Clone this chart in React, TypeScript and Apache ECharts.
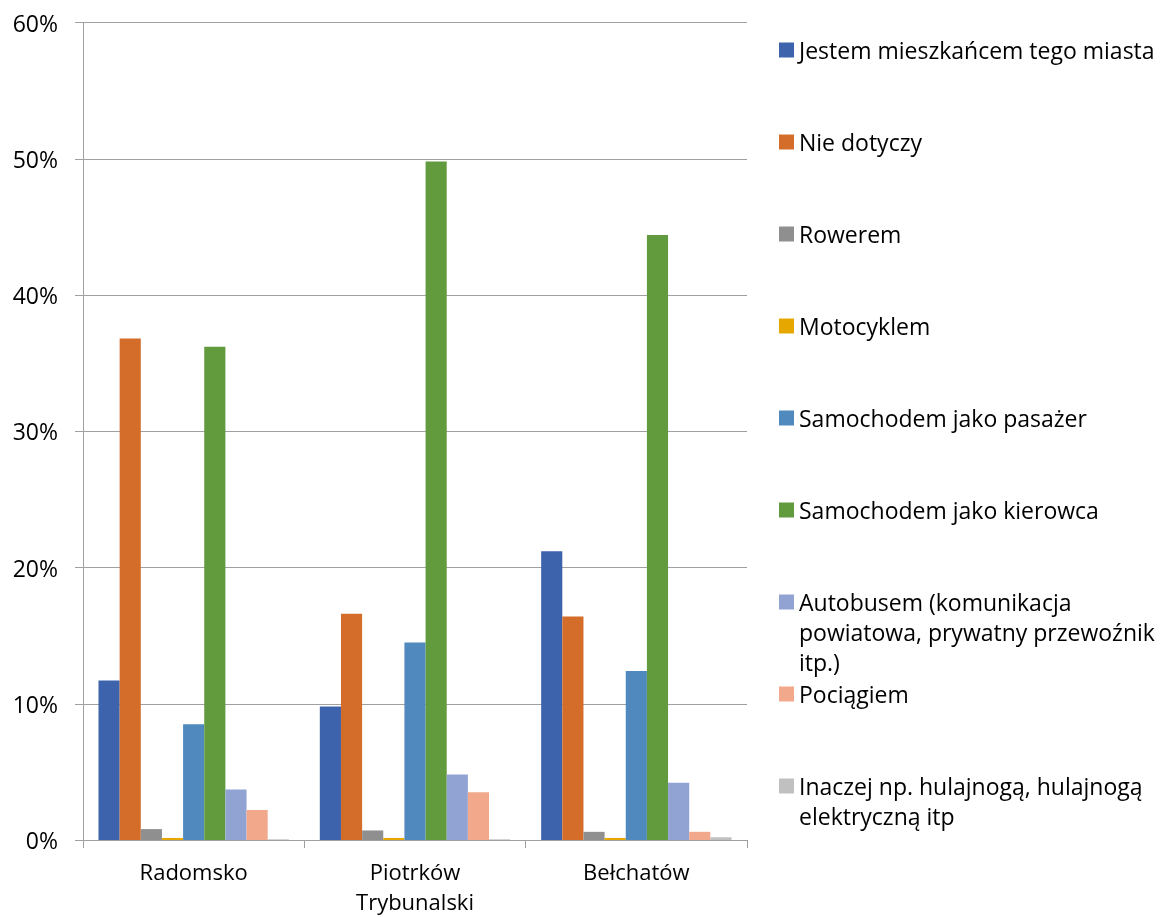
import React, { useEffect, useRef } from "react";
import * as echarts from "echarts";

const categories = ["Radomsko", "Piotrków\nTrybunalski", "Bełchatów"];
const seriesNames = [
  "Jestem mieszkańcem tego miasta",
  "Nie dotyczy",
  "Rowerem",
  "Motocyklem",
  "Samochodem jako pasażer",
  "Samochodem jako kierowca",
  "Autobusem (komunikacja powiatowa, prywatny przewoźnik itp.)",
  "Pociągiem",
  "Inaczej np. hulajnogą, hulajnogą elektryczną itp",
];
const legendLines = [
  ["Jestem mieszkańcem tego miasta"],
  ["Nie dotyczy"],
  ["Rowerem"],
  ["Motocyklem"],
  ["Samochodem jako pasażer"],
  ["Samochodem jako kierowca"],
  ["Autobusem (komunikacja", "powiatowa, prywatny przewoźnik", "itp.)"],
  ["Pociągiem"],
  ["Inaczej np. hulajnogą, hulajnogą", "elektryczną itp"],
];
const jestem = [11.7, 9.8, 21.2];
const nieDotyczy = [36.8, 16.6, 16.4];
const rowerem = [0.8, 0.7, 0.6];
const motocyklem = [0.15, 0.15, 0.15];
const pasazer = [8.5, 14.5, 12.4];
const kierowca = [36.2, 49.8, 44.4];
const autobusem = [3.7, 4.8, 4.2];
const pociagiem = [2.2, 3.5, 0.6];
const inaczej = [0.05, 0.05, 0.2];
const seriesValues = [jestem, nieDotyczy, rowerem, motocyklem, pasazer, kierowca, autobusem, pociagiem, inaczej];
const colors = ["#3C63AC", "#D46D29", "#8F8F8F", "#E6A800", "#4F89BD", "#629A3E", "#91A3D3", "#F2A98B", "#C0C0C0"];
const yTicks = [0, 10, 20, 30, 40, 50, 60];

const FONT = "Open Sans";
const FS = 23;
const LH = 26;
const STEP = 30;

export default function App() {
  const ref = useRef<HTMLDivElement>(null);
  useEffect(() => {
    if (!ref.current) return;
    const chart = echarts.init(ref.current, null, { renderer: "svg" });
    const legends = seriesNames.map((name, i) => {
      const center = 50 + 92 * i;
      return {
        show: true,
        left: 779,
        top: center - LH / 2,
        orient: "vertical",
        padding: 0,
        itemWidth: 15,
        itemHeight: 15,
        itemGap: 0,
        selectedMode: false,
        icon: "rect",
        data: [name],
        formatter: () => legendLines[i][0],
        textStyle: { fontFamily: FONT, fontSize: FS, lineHeight: LH, color: "#000" },
      };
    });
    const extraLines: any[] = [];
    legendLines.forEach((lines, i) => {
      const center = 50 + 92 * i;
      lines.slice(1).forEach((t, k) => {
        extraLines.push({
          type: "text",
          x: 799,
          y: center + STEP * (k + 1),
          style: {
            text: t,
            fontFamily: FONT,
            fontSize: FS,
            lineHeight: 24,
            fill: "#000",
            verticalAlign: "middle",
            align: "left",
          },
        });
      });
    });
    chart.setOption({
      animation: false,
      color: colors,
      textStyle: { fontFamily: FONT },
      grid: { left: 83, width: 664, top: 22.5, height: 817.5, containLabel: false, outerBoundsMode: "none" },
      legend: legends,
      graphic: extraLines,
      xAxis: {
        type: "category",
        data: categories,
        boundaryGap: true,
        axisLine: { lineStyle: { color: "#A0A0A0", width: 1 } },
        axisTick: { show: true, length: 8, alignWithLabel: false, lineStyle: { color: "#A0A0A0" } },
        axisLabel: { fontFamily: FONT, fontSize: 22, lineHeight: 30, color: "#000", margin: 16, interval: 0 },
      },
      yAxis: {
        type: "value",
        min: yTicks[0],
        max: yTicks[yTicks.length - 1],
        interval: 10,
        axisLine: { show: true, lineStyle: { color: "#A0A0A0", width: 1 } },
        axisTick: { show: true, length: 8, lineStyle: { color: "#A0A0A0" } },
        splitLine: { show: true, lineStyle: { color: "#A0A0A0", width: 1 } },
        axisLabel: { fontFamily: FONT, fontSize: FS, color: "#000", margin: 25, formatter: "{value}%" },
      },
      series: seriesNames.map((name, i) => ({
        name,
        type: "bar",
        data: seriesValues[i],
        barGap: "0%",
        barCategoryGap: "14%",
        itemStyle: { color: colors[i] },
      })),
    });
    return () => chart.dispose();
  }, []);
  return <div ref={ref} style={{ position: "fixed", left: 0, top: 0, width: 1168, height: 917 }} />;
}
